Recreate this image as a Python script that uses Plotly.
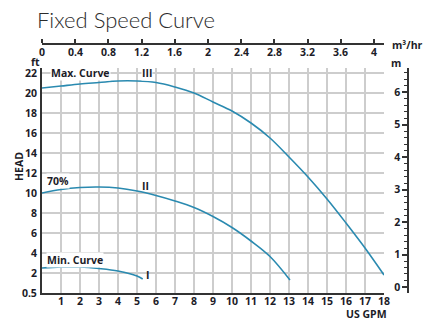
import plotly.graph_objects as go

# Pump performance: head (ft) versus flow (US GPM)
max_gpm = [0, 1, 2, 3, 4, 5, 6, 7, 8, 9, 10, 11, 12, 13, 14, 15, 16, 17, 18]
max_ft = [20.5, 20.7, 20.9, 21.05, 21.2, 21.2, 21.05, 20.6, 20.0, 19.1, 18.2,
          17.0, 15.5, 13.6, 11.6, 9.4, 7.0, 4.5, 1.8]

mid_gpm = [0, 1, 2, 3, 4, 5, 6, 7, 8, 9, 10, 11, 12, 13.05]
mid_ft = [10.0, 10.35, 10.55, 10.6, 10.5, 10.2, 9.75, 9.2, 8.55, 7.65, 6.55, 5.2, 3.65, 1.3]

min_gpm = [0, 1, 2, 3, 4, 5, 5.3]
min_ft = [2.5, 2.6, 2.6, 2.45, 2.2, 1.7, 1.4]

gpm_ticks = list(range(1, 19))
ft_ticks = [0, 2, 4, 6, 8, 10, 12, 14, 16, 18, 20, 22]
ft_labels = ["0.5", "2", "4", "6", "8", "10", "12", "14", "16", "18", "20", "22"]
m3h_ticks = [0, 0.4, 0.8, 1.2, 1.6, 2, 2.4, 2.8, 3.2, 3.6, 4]
m3h_labels = ["0", "0.4", "0.8", "1.2", "1.6", "2", "2.4", "2.8", "3.2", "3.6", "4"]
m_ticks = [0, 1, 2, 3, 4, 5, 6]

W, H = 435, 331
ML, MR, MT, MB = 42, 27, 44, 38
PW = W - ML - MR
PH = H - MT - MB


def px(x):
    return (x - ML) / PW


def py(y):
    return (H - MB - y) / PH


CURVE = "#2a8ab0"
INK = "#1c1c28"
GRID = "#cdcdcd"
FONT = "Open Sans"
tick_font = dict(family=FONT, size=10.5, color=INK, weight="bold")

fig = go.Figure()
for xs, ys in [(max_gpm, max_ft), (mid_gpm, mid_ft), (min_gpm, min_ft)]:
    fig.add_trace(go.Scatter(x=xs, y=ys, mode="lines", line=dict(color=CURVE, width=1.6, shape="spline"),
                             showlegend=False, hoverinfo="skip"))

x_end = px(384)
y_top = py(68)

fig.update_layout(
    template="none",
    width=W, height=H,
    margin=dict(l=ML, r=MR, t=MT, b=MB),
    paper_bgcolor="white", plot_bgcolor="white",
    xaxis=dict(domain=[0, x_end], range=[0, 18], tickvals=gpm_ticks, showgrid=True,
               gridcolor=GRID, gridwidth=1.5, showline=True, linecolor="#333", linewidth=2,
               ticks="", tickfont=tick_font, zeroline=False, automargin=False, ticklabelstandoff=-3),
    yaxis=dict(domain=[0, y_top], range=[0, 22.5], tickvals=ft_ticks, ticktext=ft_labels,
               showgrid=True, gridcolor=GRID, gridwidth=1.5, showline=True, linecolor="#333",
               linewidth=2, ticks="", tickfont=tick_font, zeroline=False, automargin=False,
               ticklabelstandoff=1),
    xaxis2=dict(overlaying="x", anchor="free", position=1, side="top", range=[0, 4.12],
                tickvals=m3h_ticks, showticklabels=False, showgrid=False, showline=True,
                linecolor="#333", linewidth=2, ticks="outside", ticklen=4, tickwidth=1.5,
                tickcolor="#333", zeroline=False, automargin=False),
    yaxis3=dict(overlaying="y", anchor="free", position=1, side="left", range=[-0.185, 6.74],
                tickvals=m_ticks, showgrid=False, showline=True, linecolor="#333", linewidth=1.5,
                ticks="outside", ticklen=5, tickwidth=1.5, tickcolor="#333",
                minor=dict(dtick=0.2, ticks="outside", ticklen=3, tickcolor="#333", tickwidth=1),
                tickfont=tick_font, zeroline=False, automargin=False),
)

# invisible trace so the top and right axes are drawn
fig.add_trace(go.Scatter(x=[0], y=[0], xaxis="x2", yaxis="y3", mode="markers",
                         marker=dict(opacity=0), showlegend=False, hoverinfo="skip"))

label_font = dict(family=FONT, size=10.5, color=INK, weight="bold")
ann = []
# m³/hr tick labels sit just under the top axis line
for v, t in zip(m3h_ticks, m3h_labels):
    ann.append(dict(x=v, y=py(52.5), xref="x2", yref="paper", text=t, showarrow=False,
                    xanchor="center", yanchor="middle", font=tick_font))

# curve labels in data coordinates
for text, x, y, xa, bg in [("Max. Curve", 0.42, 22, "left", True), ("III", 5.5, 22, "center", True),
                           ("70%", 0.2, 11.2, "left", True), ("II", 5.45, 10.7, "center", False),
                           ("Min. Curve", 0.2, 3.3, "left", True), ("I", 5.55, 1.8, "center", False)]:
    ann.append(dict(x=x, y=y, xref="x", yref="y", text=text, showarrow=False, xanchor=xa,
                    yanchor="middle", font=label_font, bgcolor="white" if bg else None,
                    borderpad=0))

# titles and unit labels placed in paper coordinates
for text, x, y, xa, ya, f, angle in [
    ("Fixed Speed Curve", 35, 19, "left", "middle", dict(family="Lato", size=22, color="#2b2b2b", weight=300), 0),
    ("ft", 35, 62, "center", "middle", label_font, 0),
    ("m", 396, 63, "center", "middle", label_font, 0),
    ("m³/hr", 390, 45, "left", "middle", label_font, 0),
    ("US GPM", 389, 314, "right", "middle", label_font, 0),
    ("HEAD", 19, 167, "center", "middle", label_font, -90),
]:
    ann.append(dict(x=px(x), y=py(y), xref="paper", yref="paper", text=text, showarrow=False,
                    xanchor=xa, yanchor=ya, font=f, textangle=angle))

fig.update_layout(annotations=ann)
fig.write_html("out.html")
